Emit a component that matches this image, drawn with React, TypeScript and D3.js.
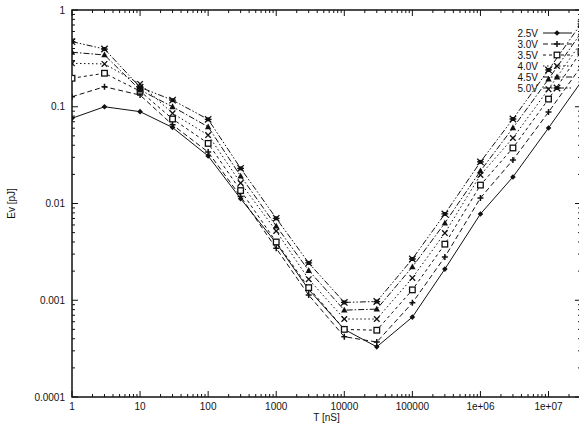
import React, { useEffect, useRef } from 'react';
import * as d3 from 'd3';

// pulse length T [nS]
const tValues = [1, 3, 10, 30, 100, 300, 1000, 3000, 10000, 30000, 100000, 300000, 1e6, 3e6, 1e7, 3e7];

// energy per pulse Ev [pJ], one list per supply voltage
const ev25 = [0.076, 0.1, 0.089, 0.061, 0.031, 0.0112, 0.0039, 0.00129, 0.0005, 0.00033, 0.00067, 0.0021, 0.0078, 0.0188, 0.0604, 0.18];
const ev30 = [0.127, 0.161, 0.132, 0.065, 0.034, 0.0118, 0.00344, 0.00113, 0.00042, 0.00037, 0.00094, 0.0028, 0.0114, 0.0282, 0.088, 0.26];
const ev35 = [0.197, 0.222, 0.145, 0.0747, 0.0418, 0.0136, 0.004, 0.00135, 0.0005, 0.00049, 0.00128, 0.0038, 0.0155, 0.0375, 0.12, 0.37];
const ev40 = [0.281, 0.277, 0.172, 0.0855, 0.051, 0.0163, 0.0052, 0.00165, 0.00064, 0.00064, 0.0017, 0.00495, 0.0197, 0.0475, 0.152, 0.46];
const ev45 = [0.366, 0.343, 0.149, 0.1, 0.062, 0.0192, 0.00585, 0.00203, 0.00079, 0.00081, 0.00221, 0.00628, 0.0217, 0.0604, 0.193, 0.58];
const ev50 = [0.471, 0.395, 0.159, 0.117, 0.0741, 0.0231, 0.00703, 0.00243, 0.00095, 0.00097, 0.00267, 0.0078, 0.0269, 0.0747, 0.24, 0.72];

const seriesNames = ['2.5V', '3.0V', '3.5V', '4.0V', '4.5V', '5.0V'];
const seriesValues = [ev25, ev30, ev35, ev40, ev45, ev50];

const xTickLabels = ['1', '10', '100', '1000', '10000', '100000', '1e+06', '1e+07'];
const yTickLabels = ['0.0001', '0.001', '0.01', '0.1', '1'];

const dashes = ['none', '5,3', '3,3', '1.5,2.5', '6,2,1.5,2', '6,2,1.5,2,1.5,2'];
const markerTypes = ['diamond', 'plus', 'square', 'cross', 'triangle', 'star'];

function drawMarker(g: any, type: string, cx: number, cy: number) {
  const ink = '#111';
  if (type === 'diamond') {
    g.append('path').attr('d', `M${cx},${cy - 2.8}L${cx + 2.8},${cy}L${cx},${cy + 2.8}L${cx - 2.8},${cy}Z`).attr('fill', ink);
  } else if (type === 'plus') {
    g.append('path').attr('d', `M${cx - 3},${cy}H${cx + 3}M${cx},${cy - 3}V${cy + 3}`).attr('stroke', ink).attr('stroke-width', 1.5);
  } else if (type === 'square') {
    g.append('rect').attr('x', cx - 2.8).attr('y', cy - 2.8).attr('width', 5.6).attr('height', 5.6)
      .attr('fill', 'white').attr('stroke', ink).attr('stroke-width', 1.3);
  } else if (type === 'cross') {
    g.append('path').attr('d', `M${cx - 2.8},${cy - 2.8}L${cx + 2.8},${cy + 2.8}M${cx - 2.8},${cy + 2.8}L${cx + 2.8},${cy - 2.8}`)
      .attr('stroke', ink).attr('stroke-width', 1.3);
  } else if (type === 'triangle') {
    g.append('path').attr('d', `M${cx},${cy - 3.4}L${cx + 3.2},${cy + 2.4}L${cx - 3.2},${cy + 2.4}Z`).attr('fill', ink);
  } else {
    g.append('rect').attr('x', cx - 2).attr('y', cy - 2).attr('width', 4).attr('height', 4).attr('fill', ink);
    g.append('path').attr('d', `M${cx - 3.2},${cy - 3.2}L${cx + 3.2},${cy + 3.2}M${cx - 3.2},${cy + 3.2}L${cx + 3.2},${cy - 3.2}M${cx - 3.4},${cy}H${cx + 3.4}`)
      .attr('stroke', ink).attr('stroke-width', 1.3);
  }
}

function Chart() {
  const ref = useRef<SVGSVGElement>(null);

  useEffect(() => {
    const svg = d3.select(ref.current);
    svg.selectAll('*').remove();

    const left = 72, right = 581, top = 10, bottom = 397;
    const x = d3.scaleLog().domain([1, 3e7]).range([left, right]);
    const y = d3.scaleLog().domain([1e-4, 1]).range([bottom, top]);
    const font = 'Liberation Sans, Arial, sans-serif';

    // ticks (inward on all four sides)
    const tk = svg.append('g').attr('stroke', '#111').attr('stroke-width', 1);
    x.ticks().forEach((v) => {
      const major = Math.abs(Math.log10(v) - Math.round(Math.log10(v))) < 1e-9;
      const len = major ? 6 : 3;
      tk.append('line').attr('x1', x(v)).attr('x2', x(v)).attr('y1', bottom).attr('y2', bottom - len);
      tk.append('line').attr('x1', x(v)).attr('x2', x(v)).attr('y1', top).attr('y2', top + len);
    });
    y.ticks().forEach((v) => {
      const major = Math.abs(Math.log10(v) - Math.round(Math.log10(v))) < 1e-9;
      const len = major ? 6 : 3;
      tk.append('line').attr('y1', y(v)).attr('y2', y(v)).attr('x1', left).attr('x2', left + len);
      tk.append('line').attr('y1', y(v)).attr('y2', y(v)).attr('x1', right).attr('x2', right - len);
    });

    // frame
    svg.append('rect').attr('x', left).attr('y', top).attr('width', right - left).attr('height', bottom - top)
      .attr('fill', 'none').attr('stroke', '#111').attr('stroke-width', 1.5);

    // tick labels
    xTickLabels.forEach((s, i) => {
      svg.append('text').attr('x', x(Math.pow(10, i))).attr('y', 410).attr('text-anchor', 'middle')
        .style('font-family', font).style('font-size', '10px').attr('fill', '#111').text(s);
    });
    yTickLabels.forEach((s, i) => {
      svg.append('text').attr('x', 65).attr('y', y(Math.pow(10, i - 4)) + 3.5).attr('text-anchor', 'end')
        .style('font-family', font).style('font-size', '10px').attr('fill', '#111').text(s);
    });

    // axis titles
    svg.append('text').attr('x', (left + right) / 2).attr('y', 421).attr('text-anchor', 'middle')
      .style('font-family', font).style('font-size', '10px').attr('fill', '#111').text('T [nS]');
    svg.append('text').attr('transform', `translate(15,${(top + bottom) / 2}) rotate(-90)`).attr('text-anchor', 'middle')
      .style('font-family', font).style('font-size', '10px').attr('fill', '#111').text('Ev [pJ]');

    // series
    svg.append('clipPath').attr('id', 'plotclip').append('rect')
      .attr('x', left).attr('y', top).attr('width', right - left).attr('height', bottom - top);
    const plot = svg.append('g').attr('clip-path', 'url(#plotclip)');

    const line = d3.line<number>().x((_, i) => x(tValues[i])).y((d) => y(d));

    seriesValues.forEach((vals, k) => {
      plot.append('path').datum(vals).attr('d', line).attr('fill', 'none').attr('stroke', '#111')
        .attr('stroke-width', 1).attr('stroke-dasharray', dashes[k]);
    });
    seriesValues.forEach((vals, k) => {
      const g = plot.append('g');
      vals.forEach((v, i) => drawMarker(g, markerTypes[k], x(tValues[i]), y(v)));
    });

    // legend
    const lg = svg.append('g');
    seriesNames.forEach((name, k) => {
      const ly = 33 + k * 11;
      lg.append('text').attr('x', 538).attr('y', ly + 3.5).attr('text-anchor', 'end')
        .style('font-family', font).style('font-size', '10px').attr('fill', '#111').text(name);
      lg.append('line').attr('x1', 543).attr('x2', 572).attr('y1', ly).attr('y2', ly)
        .attr('stroke', '#111').attr('stroke-width', 1).attr('stroke-dasharray', dashes[k]);
      drawMarker(lg, markerTypes[k], 557, ly);
    });
  }, []);

  return <svg ref={ref} width={579} height={426} style={{ position: 'absolute', left: 0, top: 0, background: 'white' }} />;
}

export default function App() {
  return <Chart />;
}
